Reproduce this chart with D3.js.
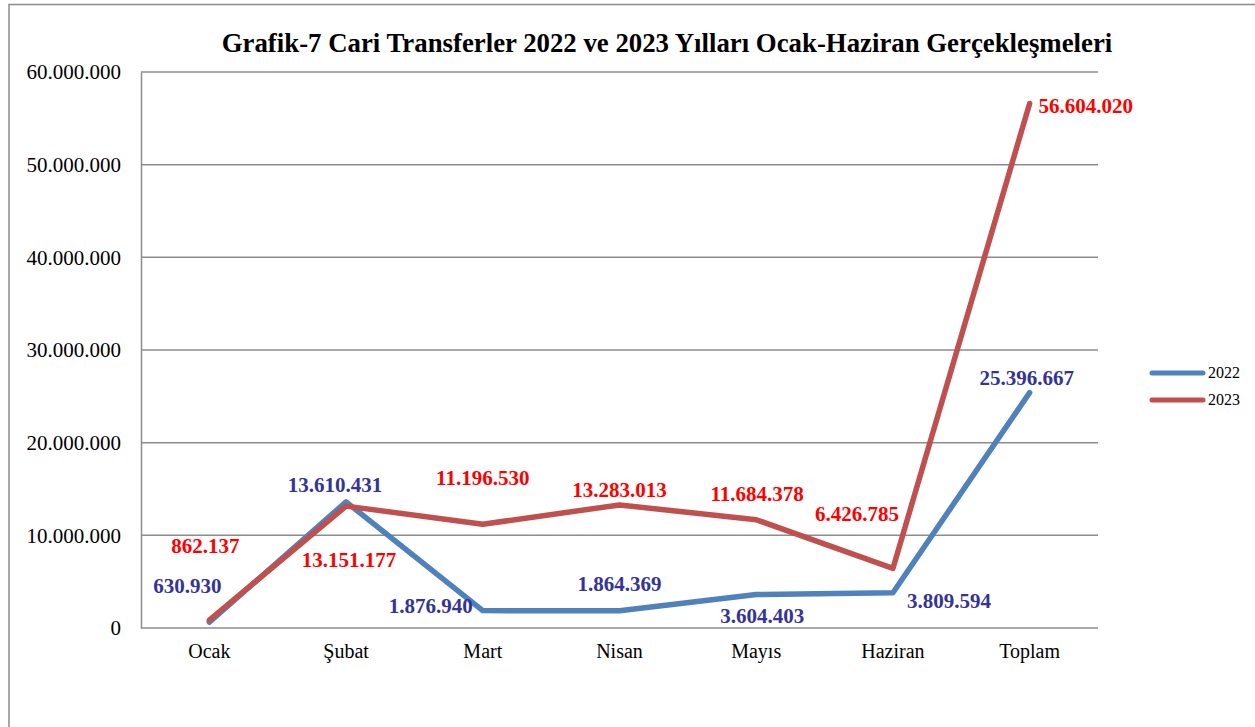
<!DOCTYPE html>
<html>
<head>
<meta charset="utf-8">
<script src="https://cdn.jsdelivr.net/npm/d3@7"></script>
<style>
  body { margin: 0; background: #fff; }
  text { font-family: "Liberation Serif", "Times New Roman", serif; }
</style>
</head>
<body>
<div id="chart-area"></div>
<script>
// data
var months = ["Ocak", "Şubat", "Mart", "Nisan", "Mayıs", "Haziran", "Toplam"];
var values2022 = [630930, 13610431, 1876940, 1864369, 3604403, 3809594, 25396667];
var values2023 = [862137, 13151177, 11196530, 13283013, 11684378, 6426785, 56604020];
var yTicks = [0, 10000000, 20000000, 30000000, 40000000, 50000000, 60000000];
var seriesNames = ["2022", "2023"];

// label placement (offset from the point)
var labelOffset2022 = [[-22, -34], [-11, -15], [-52, -2], [0, -25], [6, 24], [56, 10], [-3, -12]];
var labelOffset2023 = [[-4, -72], [3, 56], [0, -44], [0, -13], [1, -24], [-36, -52], [56, 5]];

var W = 1255, H = 727;
var margin = { left: 141, right: 157, top: 72, bottom: 99 };
var width = W - margin.left - margin.right,
    height = H - margin.top - margin.bottom;

var svg = d3.select("#chart-area")
    .append("svg")
        .attr("width", W)
        .attr("height", H);

// outer frame
svg.append("rect")
    .attr("x", 9)
    .attr("y", 4.5)
    .attr("width", 1260)
    .attr("height", 760)
    .attr("fill", "none")
    .attr("stroke", "#8c8c8c")
    .attr("stroke-width", 1.5);

svg.append("text")
    .attr("x", 667)
    .attr("y", 52)
    .attr("text-anchor", "middle")
    .attr("font-size", "26.8px")
    .attr("font-weight", "bold")
    .text("Grafik-7 Cari Transferler 2022 ve 2023 Yılları Ocak-Haziran Gerçekleşmeleri");

var g = svg.append("g")
    .attr("transform", "translate(" + margin.left + "," + margin.top + ")");

var x = d3.scaleBand()
    .domain(months)
    .range([0, width]);

var y = d3.scaleLinear()
    .domain([0, 60000000])
    .range([height, 0]);

var fmt = function(d) { return d3.format(",")(d).replace(/,/g, "."); };

// gridlines
g.selectAll(".grid")
    .data(yTicks)
    .enter().append("line")
        .attr("class", "grid")
        .attr("x1", 0)
        .attr("x2", width)
        .attr("y1", function(d) { return y(d); })
        .attr("y2", function(d) { return y(d); })
        .attr("stroke", "#8c8c8c")
        .attr("stroke-width", 1.5);

// Y Axis
var yAxisCall = d3.axisLeft(y)
    .tickValues(yTicks)
    .tickSize(0)
    .tickPadding(20)
    .tickFormat(fmt);
var yAxis = g.append("g")
    .attr("class", "y axis")
    .call(yAxisCall);
yAxis.select(".domain").attr("stroke", "#8c8c8c").attr("stroke-width", 1.5);
yAxis.selectAll("text")
    .attr("font-size", "21px")
    .attr("font-family", "Liberation Serif")
    .attr("fill", "#000");

// X Axis
var xAxisCall = d3.axisBottom(x)
    .tickSize(0)
    .tickPadding(16);
var xAxis = g.append("g")
    .attr("class", "x axis")
    .attr("transform", "translate(0," + height + ")")
    .call(xAxisCall);
xAxis.select(".domain").remove();
xAxis.selectAll("text")
    .attr("font-size", "20px")
    .attr("font-family", "Liberation Serif")
    .attr("fill", "#000");

var line = d3.line()
    .x(function(d, i) { return x(months[i]) + x.bandwidth() / 2; })
    .y(function(d) { return y(d); });

var series = [
    { name: "2022", values: values2022, color: "#4F81BD", label: "#333399", off: labelOffset2022 },
    { name: "2023", values: values2023, color: "#C0504D", label: "#FF0000", off: labelOffset2023 }
];

series.forEach(function(s) {
    g.append("path")
        .datum(s.values)
        .attr("fill", "none")
        .attr("stroke", s.color)
        .attr("stroke-width", 5.5)
        .attr("stroke-linejoin", "round")
        .attr("stroke-linecap", "round")
        .attr("d", line);
});

series.forEach(function(s) {
    g.selectAll(".lbl" + s.name)
        .data(s.values)
        .enter().append("text")
            .attr("x", function(d, i) { return x(months[i]) + x.bandwidth() / 2 + s.off[i][0]; })
            .attr("y", function(d, i) { return y(d) + s.off[i][1]; })
            .attr("text-anchor", "middle")
            .attr("dominant-baseline", "middle")
            .attr("font-size", "21px")
            .attr("font-weight", "bold")
            .attr("fill", s.label)
            .text(fmt);
});

// legend
var legend = svg.append("g")
    .attr("transform", "translate(1150,373)");
series.forEach(function(s, i) {
    var row = legend.append("g")
        .attr("transform", "translate(0," + (i * 27) + ")");
    row.append("line")
        .attr("x1", 2)
        .attr("x2", 53)
        .attr("stroke", s.color)
        .attr("stroke-width", 5)
        .attr("stroke-linecap", "round");
    row.append("text")
        .attr("x", 58)
        .attr("y", 1)
        .attr("dominant-baseline", "middle")
        .attr("font-size", "16px")
        .text(seriesNames[i]);
});
</script>
</body>
</html>
